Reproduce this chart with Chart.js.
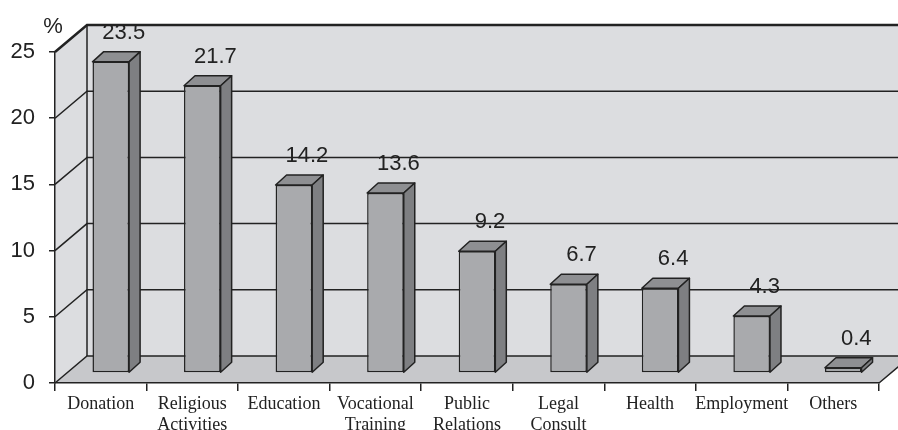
<!DOCTYPE html>
<html>
<head>
<meta charset="utf-8">
<script src="https://cdn.jsdelivr.net/npm/chart.js@4/dist/chart.umd.min.js"></script>
<style>
  body { margin: 0; background: #fff; }
  #wrap { width: 898px; height: 430px; }
</style>
</head>
<body>
<div id="wrap"><canvas id="activity-chart"></canvas></div>
<script>
// data
const categories = [
  "Donation",
  ["Religious", "Activities"],
  "Education",
  ["Vocational", "Training"],
  ["Public", "Relations"],
  ["Legal", "Consult"],
  "Health",
  "Employment",
  "Others",
];
const shares = [23.5, 21.7, 14.2, 13.6, 9.2, 6.7, 6.4, 4.3, 0.4];
const yTicks = [0, 5, 10, 15, 20, 25];

// 3d look
const WALL_DX = 32, WALL_DY = -27;  // depth of the back wall
const BAR_SHIFT_X = 10, BAR_SHIFT_Y = -10; // bar front face sits a bit inside
const BAR_DX = 11, BAR_DY = -10;    // bar depth
const INK = "#222";

const fakeDepth = {
  id: "fakeDepth",
  beforeDraw(chart) {
    const { ctx, chartArea: a, scales } = chart;
    const y = scales.y;
    const yb = y.getPixelForValue(0), yt = y.getPixelForValue(25);
    ctx.save();
    // back wall
    ctx.fillStyle = "#dcdde0";
    ctx.fillRect(a.left + WALL_DX, yt + WALL_DY, a.right - a.left, yb - yt);
    // left wall
    ctx.beginPath();
    ctx.moveTo(a.left, yb);
    ctx.lineTo(a.left, yt);
    ctx.lineTo(a.left + WALL_DX, yt + WALL_DY);
    ctx.lineTo(a.left + WALL_DX, yb + WALL_DY);
    ctx.closePath();
    ctx.fill();
    // floor
    ctx.fillStyle = "#c7c8cb";
    ctx.beginPath();
    ctx.moveTo(a.left, yb);
    ctx.lineTo(a.right, yb);
    ctx.lineTo(a.right + WALL_DX, yb + WALL_DY);
    ctx.lineTo(a.left + WALL_DX, yb + WALL_DY);
    ctx.closePath();
    ctx.fill();

    ctx.strokeStyle = INK;
    ctx.lineWidth = 1.5;
    yTicks.forEach(v => {
      const py = y.getPixelForValue(v);
      ctx.beginPath();
      ctx.moveTo(a.left, py);
      ctx.lineTo(a.left + WALL_DX, py + WALL_DY);
      ctx.lineTo(a.right + WALL_DX, py + WALL_DY);
      ctx.lineWidth = v === 25 ? 2.5 : 1.5;
      ctx.stroke();
    });
    // wall corner and floor edge
    ctx.lineWidth = 1.5;
    ctx.beginPath();
    ctx.moveTo(a.left + WALL_DX, yt + WALL_DY);
    ctx.lineTo(a.left + WALL_DX, yb + WALL_DY);
    ctx.moveTo(a.right, yb);
    ctx.lineTo(a.right + WALL_DX, yb + WALL_DY);
    ctx.stroke();

    ctx.fillStyle = INK;
    ctx.font = "22px 'Liberation Sans', Arial, sans-serif";
    ctx.textAlign = "center";
    ctx.textBaseline = "middle";
    ctx.fillText("%", 53, 27);
    ctx.restore();
  },
  beforeDatasetsDraw(chart) {
    chart.ctx.save();
    chart.ctx.translate(BAR_SHIFT_X, BAR_SHIFT_Y);
  },
  afterDatasetsDraw(chart) {
    const ctx = chart.ctx;
    const bars = chart.getDatasetMeta(0).data;
    ctx.strokeStyle = INK;
    ctx.lineWidth = 1.5;
    ctx.lineJoin = "round";
    bars.forEach(el => {
      const x1 = el.x - el.width / 2, x2 = el.x + el.width / 2;
      const top = el.y, bot = el.base;
      // top face
      ctx.fillStyle = "#8e8f92";
      ctx.beginPath();
      ctx.moveTo(x1, top);
      ctx.lineTo(x1 + BAR_DX, top + BAR_DY);
      ctx.lineTo(x2 + BAR_DX, top + BAR_DY);
      ctx.lineTo(x2, top);
      ctx.closePath();
      ctx.fill();
      ctx.stroke();
      // side face
      ctx.fillStyle = "#7e7f82";
      ctx.beginPath();
      ctx.moveTo(x2, top);
      ctx.lineTo(x2 + BAR_DX, top + BAR_DY);
      ctx.lineTo(x2 + BAR_DX, bot + BAR_DY);
      ctx.lineTo(x2, bot);
      ctx.closePath();
      ctx.fill();
      ctx.stroke();
    });
    ctx.restore();

    ctx.save();
    ctx.fillStyle = INK;
    ctx.font = "22px 'Liberation Sans', Arial, sans-serif";
    ctx.textAlign = "center";
    ctx.textBaseline = "middle";
    bars.forEach((el, i) => {
      ctx.fillText(shares[i].toFixed(1), el.x + 23, el.y - 39);
    });
    ctx.restore();
  },
};

const canvasElement = document.getElementById("activity-chart");
const config = {
  type: "bar",
  data: {
    labels: categories,
    datasets: [
      {
        label: "%",
        data: shares,
        backgroundColor: "#a9aaad",
        borderColor: INK,
        borderWidth: 1.5,
        borderSkipped: false,
        categoryPercentage: 1,
        barPercentage: 0.4,
      },
    ],
  },
  options: {
    responsive: true,
    maintainAspectRatio: false,
    animation: false,
    layout: { padding: { left: 0, top: 52, right: 19, bottom: 0 } },
    plugins: {
      legend: { display: false },
      tooltip: { enabled: false },
    },
    datasets: { bar: { clip: false } },
    scales: {
      x: {
        grid: { drawOnChartArea: false, tickLength: 8, color: INK, lineWidth: 1.5 },
        border: { color: INK, width: 1.5 },
        ticks: {
          color: INK,
          padding: 2,
          maxRotation: 0,
          autoSkip: false,
          font: { family: "'Liberation Serif', 'Times New Roman', serif", size: 18, lineHeight: 1.2 },
        },
        afterFit: s => { s.height = 47; },
      },
      y: {
        min: 0,
        max: 25,
        grid: { drawOnChartArea: false, tickLength: 6, color: INK, lineWidth: 1.5 },
        border: { color: INK, width: 1.5 },
        ticks: {
          stepSize: 5,
          color: INK,
          padding: 14,
          font: { family: "'Liberation Sans', Arial, sans-serif", size: 22 },
        },
        afterFit: s => { s.width = 55; },
      },
    },
  },
  plugins: [fakeDepth],
};

const activityChart = new Chart(canvasElement, config);
</script>
</body>
</html>
